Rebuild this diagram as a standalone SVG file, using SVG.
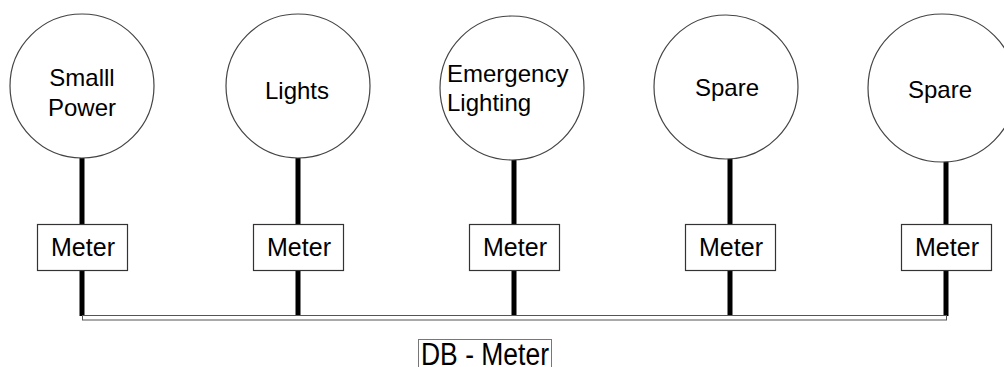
<svg xmlns="http://www.w3.org/2000/svg" width="1004" height="367" viewBox="0 0 1004 367">
<style>
.c{fill:#fff;stroke:#444;stroke-width:1.2}
.m{fill:#fff;stroke:#333;stroke-width:1.2}
.t{font-family:"Liberation Sans",Arial,sans-serif;font-size:24px;fill:#000}
.w{stroke:#000;stroke-width:5;fill:none}
</style>
<rect width="1004" height="367" fill="#fff"/>
<g id="connectors">
<line class="w" x1="82" y1="158" x2="82" y2="316"/>
<line class="w" x1="298" y1="158" x2="298" y2="316"/>
<line class="w" x1="514" y1="160" x2="514" y2="316"/>
<line class="w" x1="730" y1="159" x2="730" y2="316"/>
<line class="w" x1="946" y1="161" x2="946" y2="316"/>
<rect x="82.5" y="315.5" width="864" height="4.5" fill="#fff" stroke="#555" stroke-width="1"/>
</g>
<g id="n-small-power"><circle class="c" cx="82" cy="86" r="72"/><text class="t" x="82" y="86" text-anchor="middle">Smalll</text><text class="t" x="82" y="116" text-anchor="middle">Power</text></g>
<g id="n-lights"><circle class="c" cx="298" cy="86" r="72"/><text class="t" x="297" y="99" text-anchor="middle">Lights</text></g>
<g id="n-emergency"><circle class="c" cx="512" cy="88" r="72"/><text class="t" x="447" y="82">Emergency</text><text class="t" x="447" y="111">Lighting</text></g>
<g id="n-spare1"><circle class="c" cx="726" cy="87" r="72"/><text class="t" x="727" y="96" text-anchor="middle">Spare</text></g>
<g id="n-spare2"><circle class="c" cx="942" cy="88" r="74"/><text class="t" x="940" y="98" text-anchor="middle">Spare</text></g>
<g id="m1"><rect class="m" x="37.5" y="224.5" width="90" height="46"/><text class="t" x="83" y="256" text-anchor="middle" style="font-size:25px">Meter</text></g>
<g id="m2"><rect class="m" x="253.5" y="224.5" width="90" height="46"/><text class="t" x="299" y="256" text-anchor="middle" style="font-size:25px">Meter</text></g>
<g id="m3"><rect class="m" x="469.5" y="224.5" width="90" height="46"/><text class="t" x="515" y="256" text-anchor="middle" style="font-size:25px">Meter</text></g>
<g id="m4"><rect class="m" x="685.5" y="224.5" width="90" height="46"/><text class="t" x="731" y="256" text-anchor="middle" style="font-size:25px">Meter</text></g>
<g id="m5"><rect class="m" x="901.5" y="224.5" width="90" height="46"/><text class="t" x="947" y="256" text-anchor="middle" style="font-size:25px">Meter</text></g>
<g id="db-meter"><rect x="418.5" y="339.5" width="133" height="40" fill="#fff" stroke="#777" stroke-width="1"/><text class="t" x="421" y="365" style="font-size:31px" textLength="128" lengthAdjust="spacingAndGlyphs">DB - Meter</text></g>
</svg>
